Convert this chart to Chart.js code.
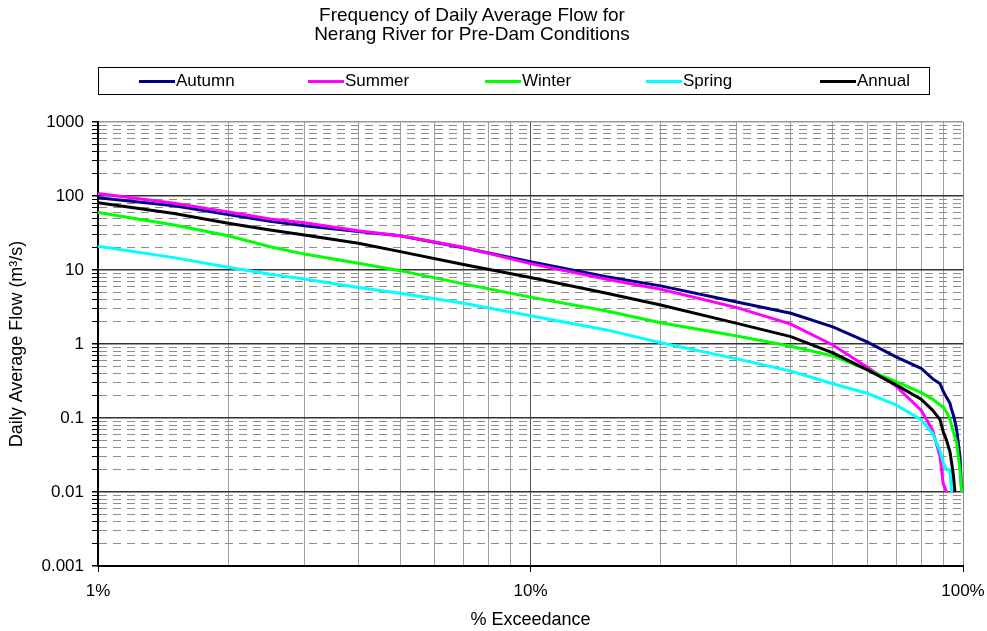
<!DOCTYPE html>
<html>
<head>
<meta charset="utf-8">
<script src="https://cdn.jsdelivr.net/npm/chart.js@4"></script>
<style>
body { margin: 0; background: #fff; font-family: "Liberation Sans", Arial, sans-serif; }
#wrap { position: relative; width: 987px; height: 631px; }
#title { position: absolute; left: 0; width: 944px; top: 5px; text-align: center; font-size: 19px; line-height: 19px; color: #000; }
#legend { position: absolute; left: 98px; top: 67px; width: 832px; height: 28px; border: 1px solid #000; box-sizing: border-box; }
.item { position: absolute; top: 0; height: 100%; display: flex; align-items: center; font-size: 17px; white-space: nowrap; }
.item .l { display: inline-block; width: 36px; height: 3px; margin-right: 1px; }
canvas { position: absolute; left: 0; top: 0; }
</style>
</head>
<body>
<div id="wrap">
  <canvas id="flowChart" width="987" height="631"></canvas>
  <div id="title">Frequency of Daily Average Flow for<br>Nerang River for Pre-Dam Conditions</div>
  <div id="legend"></div>
</div>
<script>
// values (% exceedance vs m3/s)
const exceedance = [1, 1.5, 2, 2.5, 3, 4, 5, 7, 10, 15, 20, 30, 40, 50, 60, 70, 80, 85, 88.5, 90, 91.6, 93.3, 94.1, 95, 95.8, 96.7, 98.4, 99.3];
const autumn = [95, 74, 56, 45.5, 39.7, 33, 29, 20, 12.9, 8.1, 6.1, 3.7, 2.6, 1.7, 1.07, 0.67, 0.47, 0.34, 0.29, 0.23, 0.19, 0.158, 0.13, 0.11, 0.09, 0.069, 0.03, 0.01];
const summer = [108, 80, 61, 49, 43.5, 34, 29, 20.3, 12.2, 7.5, 5.5, 3.1, 1.86, 0.97, 0.49, 0.27, 0.128, 0.069, 0.03, 0.013, 0.01, null, null, null, null, null, null, null];
const winter = [60, 40.6, 29, 20.6, 16.4, 12.3, 9.8, 6.5, 4.3, 2.79, 1.94, 1.28, 0.93, 0.69, 0.45, 0.31, 0.22, 0.18, 0.15, 0.14, 0.12, 0.095, 0.08, 0.065, 0.055, 0.046, 0.02, 0.01];
const spring = [20.9, 14.7, 10.9, 8.75, 7.55, 5.8, 4.84, 3.55, 2.41, 1.55, 1.04, 0.63, 0.43, 0.29, 0.216, 0.15, 0.095, 0.062, 0.036, 0.025, 0.02, 0.02, 0.01, null, null, null, null, null];
const annual = [81, 58, 42.8, 34.7, 29.7, 23, 17.7, 11.9, 7.9, 4.84, 3.36, 1.9, 1.26, 0.76, 0.45, 0.28, 0.18, 0.128, 0.095, 0.065, 0.05, 0.035, 0.025, 0.017, 0.01, null, null, null];

const seriesNames = ["Autumn", "Summer", "Winter", "Spring", "Annual"];
const seriesColors = ["#000080", "#FF00FF", "#00FF00", "#00FFFF", "#000000"];

// axis ticks: decades plus the 2..9 steps in between
const xDecades = [1, 10, 100];
const yDecades = [0.001, 0.01, 0.1, 1, 10, 100, 1000];
const minorSteps = [2, 3, 4, 5, 6, 7, 8, 9];

function withMinors(decades) {
  const out = [];
  decades.forEach((d, i) => {
    out.push(d);
    if (i < decades.length - 1) minorSteps.forEach(m => out.push(+(d * m).toPrecision(6)));
  });
  return out;
}
const xTicks = withMinors(xDecades);
const yTicks = withMinors(yDecades);

function isDecade(v) {
  const l = Math.log10(v);
  return Math.abs(l - Math.round(l)) < 1e-6;
}

const allValues = [autumn, summer, winter, spring, annual];
const datasets = seriesNames.map((name, k) => ({
  label: name,
  data: exceedance.map((x, i) => ({ x: x, y: allValues[k][i] })).filter(p => p.y != null),
  borderColor: seriesColors[k],
  backgroundColor: seriesColors[k],
  borderWidth: 3,
  pointRadius: 0,
  tension: 0,
  order: seriesNames.length - k
}));

// legend
const legend = document.getElementById("legend");
const legendX = [40, 209, 386, 547, 721];
seriesNames.forEach((name, k) => {
  const it = document.createElement("div");
  it.className = "item";
  it.style.left = legendX[k] + "px";
  it.innerHTML = '<span class="l" style="background:' + seriesColors[k] + '"></span>' + name;
  legend.appendChild(it);
});

Chart.defaults.font.family = '"Liberation Sans", Arial, sans-serif';
Chart.defaults.font.size = 17;
Chart.defaults.color = "#000";

new Chart(document.getElementById("flowChart"), {
  type: "line",
  data: { datasets: datasets },
  options: {
    responsive: false,
    animation: false,
    layout: { padding: { top: 122, right: 24, bottom: 0, left: 0 } },
    plugins: { legend: { display: false }, title: { display: false }, tooltip: { enabled: false } },
    scales: {
      x: {
        type: "logarithmic",
        min: 1,
        max: 100,
        afterBuildTicks: s => { s.ticks = xTicks.map(v => ({ value: v })); },
        afterFit: s => { s.height = 65; s.paddingLeft = 0; s.paddingRight = 0; },
        ticks: {
          autoSkip: false,
          maxRotation: 0,
          padding: 9,
          callback: v => isDecade(v) ? v + "%" : ""
        },
        grid: {
          color: c => {
            if (!c.tick) return "#a0a0a0";
            if (c.tick.value === 100) return "#888";
            return isDecade(c.tick.value) ? "#555" : "#a0a0a0";
          },
          lineWidth: 1,
          tickLength: 6,
          tickColor: c => (c.tick && isDecade(c.tick.value)) ? "#000" : "rgba(0,0,0,0)"
        },
        border: { color: "#000", width: 2 },
        title: { display: true, text: "% Exceedance", font: { size: 18 }, padding: { top: 2, bottom: 0 } }
      },
      y: {
        type: "logarithmic",
        min: 0.001,
        max: 1000,
        afterBuildTicks: s => { s.ticks = yTicks.map(v => ({ value: v })); },
        afterFit: s => { s.width = 98; },
        ticks: {
          autoSkip: false,
          padding: 8,
          callback: v => isDecade(v) ? String(v) : ""
        },
        grid: {
          color: c => {
            if (!c.tick) return "#808080";
            if (c.tick.value === 1000) return "#999";
            return isDecade(c.tick.value) ? "#333" : "#8c8c8c";
          },
          lineWidth: c => (c.tick && isDecade(c.tick.value)) ? 1.5 : 1,
          tickLength: 6,
          tickColor: "#000"
        },
        border: {
          color: "#000",
          width: 2,
          dash: c => (c.tick && !isDecade(c.tick.value)) ? [8, 6] : []
        },
        title: { display: true, text: "Daily Average Flow (m³/s)", font: { size: 18 }, padding: { top: 6, bottom: 4 } }
      }
    }
  }
});
</script>
</body>
</html>
